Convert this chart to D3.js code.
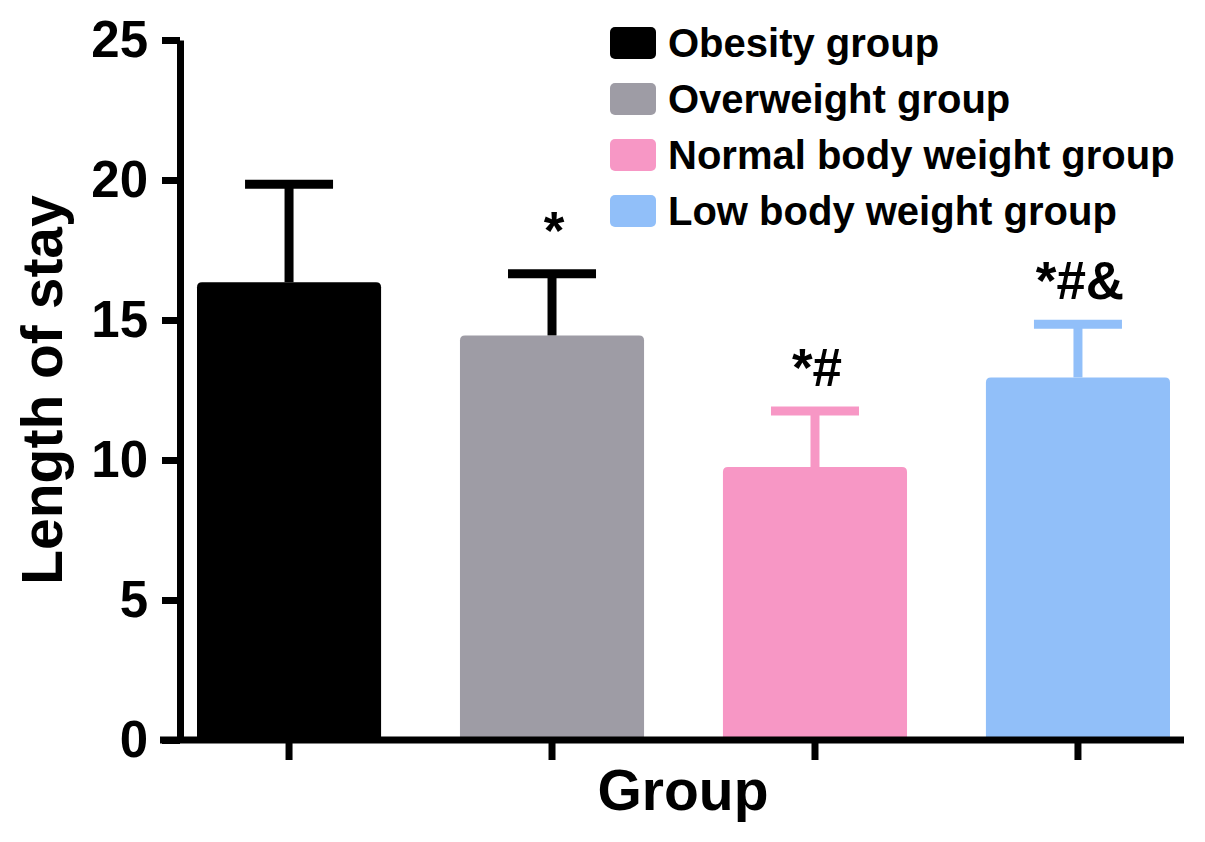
<!DOCTYPE html>
<html>
<head>
<meta charset="utf-8">
<script src="https://cdn.jsdelivr.net/npm/d3@7"></script>
<style>
  body { margin: 0; background: #fff; }
  svg text { font-family: "Liberation Sans", Arial, sans-serif; font-weight: bold; }
</style>
</head>
<body>
<div id="chart"></div>
<script>
// data
var groups = ["Obesity group", "Overweight group", "Normal body weight group", "Low body weight group"];
var means = [16.35, 14.45, 9.75, 12.95];
var sds = [3.5, 2.2, 2.0, 1.9];
var marks = ["", "*", "*#", "*#&"];
var yTicks = [0, 5, 10, 15, 20, 25];
var kleuren = ["#000000", "#9e9ca5", "#f797c5", "#91bff9"];
var foutkleuren = ["#000000", "#000000", "#f797c5", "#91bff9"];

var svg = d3.select("#chart")
    .append("svg")
    .attr("width", 1205)
    .attr("height", 842);

var x = d3.scaleBand()
    .domain(groups)
    .range([197, 1170])
    .paddingInner(0.3)
    .paddingOuter(0);

var y = d3.scaleLinear()
    .domain([0, 25])
    .range([740, 40]);

// bar with slightly rounded top corners
function barPath(x0, w, yTop, yBot, r) {
    return "M" + x0 + "," + yBot +
        "V" + (yTop + r) +
        "Q" + x0 + "," + yTop + " " + (x0 + r) + "," + yTop +
        "H" + (x0 + w - r) +
        "Q" + (x0 + w) + "," + yTop + " " + (x0 + w) + "," + (yTop + r) +
        "V" + yBot + "Z";
}

svg.selectAll("path.bar")
    .data(groups)
    .enter()
    .append("path")
    .attr("class", "bar")
    .attr("fill", function (d, i) { return kleuren[i]; })
    .attr("d", function (d, i) { return barPath(x(d), x.bandwidth(), y(means[i]), y(0), 5); });

// error bars (upper half only)
svg.selectAll("line.err")
    .data(groups)
    .enter()
    .append("line")
    .attr("class", "err")
    .attr("stroke", function (d, i) { return foutkleuren[i]; })
    .attr("stroke-width", 9)
    .attr("x1", function (d) { return x(d) + x.bandwidth() / 2; })
    .attr("x2", function (d) { return x(d) + x.bandwidth() / 2; })
    .attr("y1", function (d, i) { return y(means[i]); })
    .attr("y2", function (d, i) { return y(means[i] + sds[i]); });

svg.selectAll("line.cap")
    .data(groups)
    .enter()
    .append("line")
    .attr("class", "cap")
    .attr("stroke", function (d, i) { return foutkleuren[i]; })
    .attr("stroke-width", 9)
    .attr("x1", function (d) { return x(d) + x.bandwidth() / 2 - 44; })
    .attr("x2", function (d) { return x(d) + x.bandwidth() / 2 + 44; })
    .attr("y1", function (d, i) { return y(means[i] + sds[i]); })
    .attr("y2", function (d, i) { return y(means[i] + sds[i]); });

// significance marks
svg.selectAll("text.mark")
    .data(groups)
    .enter()
    .append("text")
    .attr("class", "mark")
    .attr("font-size", 53)
    .attr("text-anchor", "middle")
    .attr("x", function (d) { return x(d) + x.bandwidth() / 2 + 2; })
    .attr("y", function (d, i) { return y(means[i] + sds[i]) - 25; })
    .text(function (d, i) { return marks[i]; });

// y axis
var yAxis = svg.append("g")
    .attr("transform", "translate(180,0)")
    .call(d3.axisLeft(y).tickValues(yTicks).tickSize(18).tickSizeOuter(0).tickPadding(14));
yAxis.selectAll("path, line").attr("stroke", "#000").attr("stroke-width", 7);
yAxis.selectAll("text").attr("font-size", 51).attr("fill", "#000");

// x axis
var xAxis = svg.append("g")
    .attr("transform", "translate(0,740)")
    .call(d3.axisBottom(x).tickSize(20).tickFormat(""));
xAxis.select(".domain").remove();
xAxis.selectAll("line").attr("stroke", "#000").attr("stroke-width", 7);
svg.append("line")
    .attr("x1", 160).attr("x2", 1184)
    .attr("y1", y(0)).attr("y2", y(0))
    .attr("stroke", "#000")
    .attr("stroke-width", 7);

// axis titles
svg.append("text")
    .attr("font-size", 57)
    .attr("text-anchor", "middle")
    .attr("x", 683)
    .attr("y", 810)
    .text("Group");

svg.append("text")
    .attr("font-size", 57)
    .attr("text-anchor", "middle")
    .attr("transform", "translate(62,390) rotate(-90)")
    .text("Length of stay");

// legend
var legend = svg.selectAll("g.legend")
    .data(groups)
    .enter()
    .append("g")
    .attr("class", "legend")
    .attr("transform", function (d, i) { return "translate(610," + (43 + i * 56) + ")"; });

legend.append("rect")
    .attr("x", 0)
    .attr("y", -16)
    .attr("width", 46)
    .attr("height", 32)
    .attr("rx", 5)
    .attr("fill", function (d, i) { return kleuren[i]; });

legend.append("text")
    .attr("x", 58)
    .attr("dy", "0.35em")
    .attr("font-size", 40)
    .text(function (d) { return d; });
</script>
</body>
</html>
